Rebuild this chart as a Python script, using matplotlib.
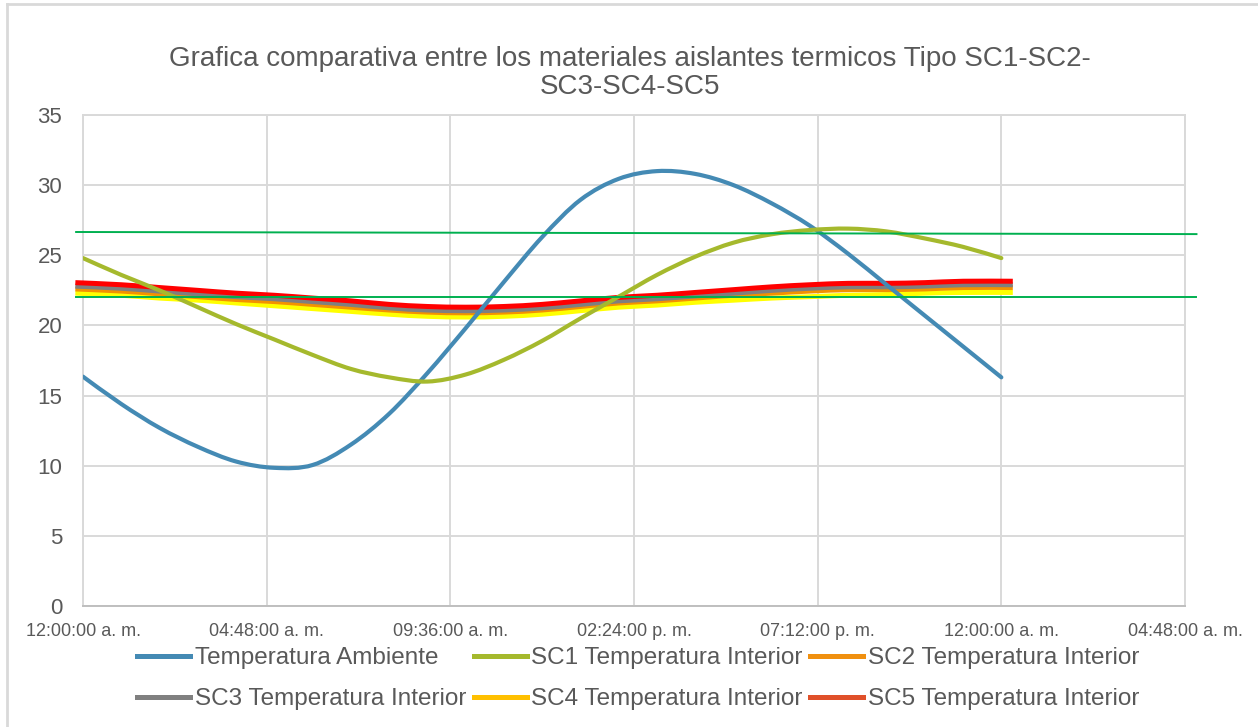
import matplotlib
matplotlib.use("Agg")
import matplotlib.pyplot as plt
from matplotlib.lines import Line2D
from matplotlib.path import Path
from matplotlib.patches import PathPatch

plt.rcParams['font.family'] = ['Liberation Sans', 'DejaVu Sans']

# hours of the day (0 = 12:00 a. m.)
hours = list(range(0, 25))
ambiente = [16.35, 14.4, 12.7, 11.35, 10.3, 9.85, 10.05, 11.5, 13.7, 16.6, 19.8, 23.1, 26.3,
            28.95, 30.45, 31.0, 30.8, 30.0, 28.7, 27.1, 25.1, 22.9, 20.7, 18.5, 16.3]
sc1 = [24.8, 23.6, 22.5, 21.3, 20.1, 19.0, 17.9, 16.9, 16.3, 16.0, 16.5, 17.55, 18.9,
       20.5, 22.05, 23.6, 24.9, 25.9, 26.5, 26.8, 26.9, 26.7, 26.2, 25.6, 24.8]

# SC2..SC5 run a bit past both ends of the day
sc_hours = [-0.2] + list(range(1, 24)) + [24.3]
sc2 = [22.6, 22.45, 22.25, 22.05, 21.85, 21.7, 21.5, 21.3, 21.1, 20.95, 20.9, 20.95, 21.1,
       21.35, 21.6, 21.75, 21.95, 22.15, 22.3, 22.45, 22.55, 22.55, 22.6, 22.7, 22.7]
sc3 = [22.8, 22.65, 22.45, 22.25, 22.05, 21.9, 21.7, 21.5, 21.25, 21.1, 21.05, 21.1, 21.25,
       21.5, 21.75, 21.9, 22.1, 22.3, 22.5, 22.65, 22.75, 22.75, 22.8, 22.9, 22.9]
sc4 = [22.3, 22.15, 21.95, 21.8, 21.6, 21.4, 21.2, 21.0, 20.8, 20.65, 20.6, 20.65, 20.8,
       21.05, 21.3, 21.45, 21.65, 21.8, 21.95, 22.05, 22.15, 22.2, 22.3, 22.35, 22.35]
sc5 = [23.05, 22.9, 22.7, 22.5, 22.3, 22.15, 21.95, 21.75, 21.5, 21.35, 21.3, 21.35, 21.5,
       21.75, 22.0, 22.15, 22.35, 22.55, 22.75, 22.9, 23.0, 23.0, 23.05, 23.15, 23.15]

# two reference lines (green)
ref_hours = [-0.18, 29.1]
ref_top = [26.66, 26.51]
ref_bottom = [22.05, 22.05]

xticks = [0, 4.8, 9.6, 14.4, 19.2, 24.0, 28.8]
xlabels = ['12:00:00 a. m.', '04:48:00 a. m.', '09:36:00 a. m.', '02:24:00 p. m.',
           '07:12:00 p. m.', '12:00:00 a. m.', '04:48:00 a. m.']

names = ['Temperatura Ambiente', 'SC1 Temperatura Interior', 'SC2 Temperatura Interior',
         'SC3 Temperatura Interior', 'SC4 Temperatura Interior', 'SC5 Temperatura Interior']
legend_colors = ['#448AB4', '#A5B92D', '#F0900F', '#808080', '#FFC000', '#E0502A']


def smooth(ax, x, y, color, lw, z, clip=True, cap='round'):
    # excel-like smoothed line: bezier segments through the points
    n = len(x)
    verts = [(x[0], y[0])]
    codes = [Path.MOVETO]
    for i in range(n - 1):
        x0, y0 = (x[i - 1], y[i - 1]) if i > 0 else (x[i], y[i])
        x3, y3 = (x[i + 2], y[i + 2]) if i + 2 < n else (x[i + 1], y[i + 1])
        c1 = (x[i] + (x[i + 1] - x0) / 6, y[i] + (y[i + 1] - y0) / 6)
        c2 = (x[i + 1] - (x3 - x[i]) / 6, y[i + 1] - (y3 - y[i]) / 6)
        verts += [c1, c2, (x[i + 1], y[i + 1])]
        codes += [Path.CURVE4] * 3
    patch = PathPatch(Path(verts, codes), facecolor='none', edgecolor=color, lw=lw,
                      zorder=z, clip_on=clip, capstyle=cap, joinstyle='round')
    ax.add_patch(patch)


fig = plt.figure(figsize=(12.58, 7.27), dpi=100)
ax = fig.add_axes([83 / 1258, 1 - 606 / 727, (1185 - 83) / 1258, (606 - 115) / 727])

txt = '#595959'
grid = '#D9D9D9'

lw_sc = 3.6
smooth(ax, sc_hours, sc4, '#FFFF00', lw_sc, 3, clip=False, cap='butt')
smooth(ax, sc_hours, sc2, '#F39200', lw_sc, 3.1, clip=False, cap='butt')
smooth(ax, sc_hours, sc3, '#7F7F7F', lw_sc, 3.2, clip=False, cap='butt')
smooth(ax, sc_hours, sc5, '#FF0000', lw_sc, 3.3, clip=False, cap='butt')
smooth(ax, hours, ambiente, '#448AB4', 3.0, 4)
smooth(ax, hours, sc1, '#A5B92D', 3.0, 4.1)
ax.plot(ref_hours, ref_top, color='#00B050', lw=1.4, clip_on=False, zorder=5)
ax.plot(ref_hours, ref_bottom, color='#00B050', lw=1.4, clip_on=False, zorder=5)

ax.set_xlim(0, 28.8)
ax.set_ylim(0, 35)
ax.set_yticks(range(0, 36, 5))
ax.set_xticks(xticks)
ax.set_xticklabels(xlabels)
ax.tick_params(axis='x', length=0, pad=12, labelsize=13, colors=txt)
ax.tick_params(axis='y', length=0, pad=15, labelsize=16, colors=txt)
ax.grid(True, color=grid, lw=1.4)
ax.set_axisbelow(True)
for s in ['top', 'right', 'left']:
    ax.spines[s].set_color(grid)
    ax.spines[s].set_linewidth(1.4)
ax.spines['bottom'].set_color('#BFBFBF')
ax.spines['bottom'].set_linewidth(1.4)

fig.text(0.501, 1 - 66 / 727, 'Grafica comparativa entre los materiales aislantes termicos Tipo SC1-SC2-',
         ha='center', va='baseline', fontsize=20, color=txt)
fig.text(0.501, 1 - 94 / 727, 'SC3-SC4-SC5', ha='center', va='baseline', fontsize=20, color=txt)

# legend, filled row by row
handles = [Line2D([], [], color=c, lw=3.6) for c in legend_colors]
order = [0, 3, 1, 4, 2, 5]
fig.legend([handles[i] for i in order], [names[i] for i in order], ncol=3,
           loc='upper left', bbox_to_anchor=(137 / 1258, 1 - 647 / 727), frameon=False,
           fontsize=17.5, labelcolor=txt, handlelength=2.18, handletextpad=0.2,
           columnspacing=0.3, labelspacing=0.8, borderpad=0, borderaxespad=0)

# chart border (left and top edge visible)
fig.add_artist(Line2D([7 / 1258, 7 / 1258], [0, 1 - 4 / 727], color=grid, lw=2))
fig.add_artist(Line2D([7 / 1258, 1], [1 - 4 / 727, 1 - 4 / 727], color=grid, lw=2))

fig.savefig('out.png', dpi=100)
